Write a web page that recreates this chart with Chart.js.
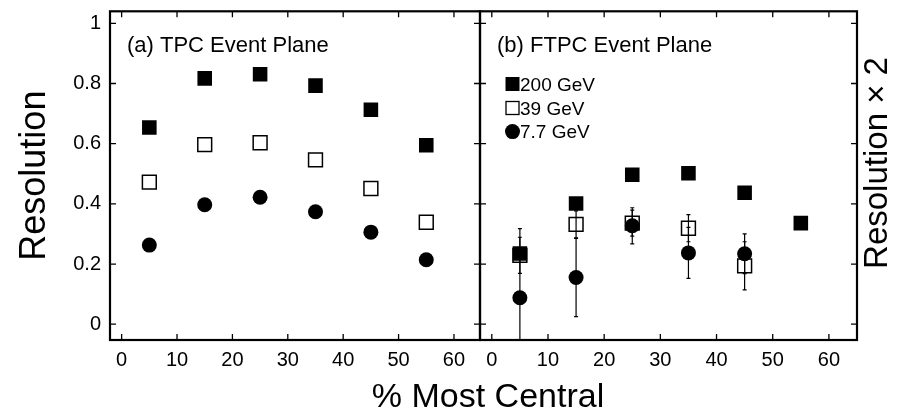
<!DOCTYPE html>
<html>
<head>
<meta charset="utf-8">
<script src="https://cdn.jsdelivr.net/npm/chart.js@4.4.1/dist/chart.umd.min.js"></script>
<style>
  html, body { margin: 0; padding: 0; background: #fff; }
  #wrap { position: relative; width: 907px; height: 413px; }
  #wrap canvas { position: absolute; left: 0; top: 0; }
</style>
</head>
<body>
<div id="wrap">
  <canvas id="tpc" width="907" height="413"></canvas>
  <canvas id="ftpc" width="907" height="413"></canvas>
</div>
<script>
// centrality bins (% most central)
const centrality = [5, 15, 25, 35, 45, 55];
const xTicks = [0, 10, 20, 30, 40, 50, 60];
const yTicks = [0, 0.2, 0.4, 0.6, 0.8, 1];

// (a) TPC event plane resolution
const tpc200 = [0.654, 0.817, 0.831, 0.793, 0.713, 0.595];
const tpc39 = [0.472, 0.597, 0.603, 0.546, 0.451, 0.339];
const tpc7 = [0.263, 0.397, 0.422, 0.374, 0.306, 0.214];

// (b) FTPC event plane resolution x 2
const ftpc200 = [0.235, 0.401, 0.497, 0.502, 0.437, 0.336];
const ftpc39 = [0.229, 0.332, 0.336, 0.319, 0.194, null];
const ftpc7 = [0.088, 0.155, 0.327, 0.237, 0.234, null];
const ftpc39Err = [0.06, 0.045, 0.043, 0.045, 0.08, null];
const ftpc7Err = [0.23, 0.13, 0.06, 0.085, 0.066, null];

const FONT = "'Liberation Sans', Arial, Helvetica, sans-serif";

function pts(ys) {
  return centrality.map((x, i) => ({ x: x, y: ys[i] })).filter(p => p.y !== null);
}

function series(v200, v39, v7) {
  return [
    { label: '200 GeV', data: pts(v200), pointStyle: 'rect', pointRadius: 10.3,
      backgroundColor: '#000', borderColor: '#000', borderWidth: 0, order: 1 },
    { label: '39 GeV', data: pts(v39), pointStyle: 'rect', pointRadius: 9.8,
      backgroundColor: 'rgba(0,0,0,0)', borderColor: '#000', borderWidth: 1.5, order: 2 },
    { label: '7.7 GeV', data: pts(v7), pointStyle: 'circle', pointRadius: 7.5,
      backgroundColor: '#000', borderColor: '#000', borderWidth: 0, order: 0 }
  ];
}

function noPad(s) {
  s.paddingTop = 0; s.paddingBottom = 0;
  s.paddingLeft = 0; s.paddingRight = 0;
}

// frame with inward ticks on all four sides
const framePlugin = {
  id: 'frame',
  afterDraw(chart) {
    const ctx = chart.ctx, a = chart.chartArea;
    const xs = chart.scales.x, ys = chart.scales.y;
    ctx.save();
    ctx.strokeStyle = '#000';
    ctx.lineWidth = 1.3;
    ctx.beginPath();
    xTicks.forEach(v => {
      const px = xs.getPixelForValue(v);
      ctx.moveTo(px, a.bottom); ctx.lineTo(px, a.bottom - 6);
      ctx.moveTo(px, a.top); ctx.lineTo(px, a.top + 6);
    });
    yTicks.forEach(v => {
      const py = ys.getPixelForValue(v);
      ctx.moveTo(a.left, py); ctx.lineTo(a.left + 6, py);
      ctx.moveTo(a.right, py); ctx.lineTo(a.right - 6, py);
    });
    ctx.stroke();
    ctx.lineWidth = 2.2;
    ctx.strokeRect(a.left, a.top, a.right - a.left, a.bottom - a.top);
    ctx.restore();
  }
};

// vertical error bars, drawn under the markers
const errorPlugin = {
  id: 'errbars',
  beforeDatasetsDraw(chart, args, opts) {
    if (!opts.errors) return;
    const ctx = chart.ctx, a = chart.chartArea;
    const xs = chart.scales.x, ys = chart.scales.y;
    ctx.save();
    ctx.beginPath();
    ctx.rect(a.left, a.top, a.right - a.left, a.bottom - a.top);
    ctx.clip();
    ctx.strokeStyle = '#000';
    ctx.lineWidth = 1.2;
    opts.errors.forEach(e => {
      centrality.forEach((c, i) => {
        if (e.vals[i] === null || e.errs[i] === null) return;
        const px = xs.getPixelForValue(c);
        const hi = ys.getPixelForValue(e.vals[i] + e.errs[i]);
        const lo = ys.getPixelForValue(e.vals[i] - e.errs[i]);
        ctx.beginPath();
        ctx.moveTo(px, hi); ctx.lineTo(px, lo);
        ctx.moveTo(px - 2, hi); ctx.lineTo(px + 2, hi);
        ctx.moveTo(px - 2, lo); ctx.lineTo(px + 2, lo);
        ctx.stroke();
      });
    });
    ctx.restore();
  }
};

// panel labels, legend and free text
const textPlugin = {
  id: 'texts',
  afterDraw(chart, args, opts) {
    const ctx = chart.ctx, a = chart.chartArea;
    ctx.save();
    ctx.fillStyle = '#000';
    ctx.textBaseline = 'alphabetic';
    ctx.font = '22px ' + FONT;
    ctx.fillText(opts.panel, a.left + 17, 52);

    if (opts.legend) {
      const rows = [
        { text: '200 GeV', style: 'fill', base: 90.7 },
        { text: '39 GeV', style: 'open', base: 114.7 },
        { text: '7.7 GeV', style: 'circle', base: 138.3 }
      ];
      ctx.font = '19px ' + FONT;
      rows.forEach(r => {
        const cx = 512.5, cy = r.base - 6.7;
        if (r.style === 'fill') {
          ctx.fillRect(cx - 7, cy - 7, 14, 14);
        } else if (r.style === 'open') {
          ctx.lineWidth = 1.3;
          ctx.strokeRect(cx - 6.5, cy - 6.5, 13, 13);
        } else {
          ctx.beginPath();
          ctx.arc(cx, cy, 7.5, 0, Math.PI * 2);
          ctx.fill();
        }
        ctx.fillText(r.text, 520, r.base);
      });
    }

    if (opts.rightTitle) {
      ctx.save();
      ctx.translate(877.5, 163);
      ctx.rotate(-Math.PI / 2);
      ctx.font = '33px ' + FONT;
      ctx.textAlign = 'center';
      ctx.textBaseline = 'middle';
      ctx.fillText(opts.rightTitle, 0, 0);
      ctx.restore();
    }

    if (opts.xTitle) {
      ctx.font = '34px ' + FONT;
      ctx.textAlign = 'center';
      ctx.fillText(opts.xTitle, 488, 407);
    }
    ctx.restore();
  }
};

function makePanel(id, cfg) {
  return new Chart(document.getElementById(id), {
    type: 'scatter',
    data: { datasets: cfg.datasets },
    plugins: [errorPlugin, framePlugin, textPlugin],
    options: {
      responsive: false,
      animation: false,
      events: [],
      layout: { padding: cfg.padding },
      plugins: {
        legend: { display: false },
        tooltip: { enabled: false },
        errbars: { errors: cfg.errors },
        texts: { panel: cfg.panel, legend: cfg.legend, rightTitle: cfg.rightTitle, xTitle: cfg.xTitle }
      },
      scales: {
        x: {
          type: 'linear',
          min: cfg.xMin, max: cfg.xMax,
          afterBuildTicks: s => { s.ticks = xTicks.map(v => ({ value: v })); },
          afterFit: s => { s.height = 73; noPad(s); },
          grid: { display: false, drawTicks: false },
          border: { display: false },
          ticks: { color: '#000', font: { family: FONT, size: 20 }, padding: 8, maxRotation: 0 }
        },
        y: {
          type: 'linear',
          position: cfg.yPos,
          min: -0.0525, max: 1.04,
          afterBuildTicks: s => { s.ticks = yTicks.map(v => ({ value: v })); },
          afterFit: s => { s.width = cfg.yWidth; noPad(s); },
          grid: { display: false, drawTicks: false },
          border: { display: false },
          ticks: {
            display: cfg.yLabels,
            color: '#000', font: { family: FONT, size: 20 }, padding: 9,
            callback: v => String(v)
          },
          title: {
            display: !!cfg.yTitle,
            text: cfg.yTitle || '',
            color: '#000',
            font: { family: FONT, size: 36 },
            padding: { top: 13, bottom: 0 }
          }
        }
      }
    }
  });
}

makePanel('tpc', {
  datasets: series(tpc200, tpc39, tpc7),
  padding: { left: 0, right: 427, top: 7, bottom: 0 },
  xMin: -2.1, xMax: 64.7,
  yPos: 'left', yWidth: 110, yLabels: true, yTitle: 'Resolution',
  panel: '(a) TPC Event Plane',
  xTitle: '% Most Central'
});

makePanel('ftpc', {
  datasets: series(ftpc200, ftpc39, ftpc7),
  padding: { left: 480, right: 0, top: 7, bottom: 0 },
  xMin: -2.1, xMax: 65,
  yPos: 'right', yWidth: 50, yLabels: false,
  panel: '(b) FTPC Event Plane',
  legend: true,
  rightTitle: 'Resolution \u00d7 2',
  errors: [
    { vals: ftpc39, errs: ftpc39Err },
    { vals: ftpc7, errs: ftpc7Err }
  ]
});
</script>
</body>
</html>
